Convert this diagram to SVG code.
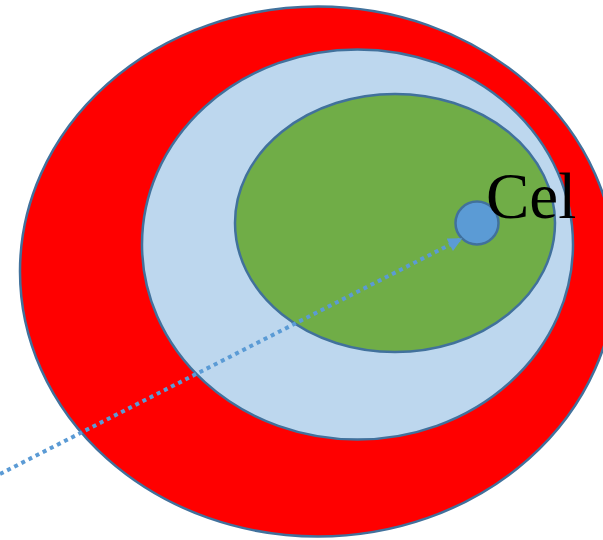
<svg xmlns="http://www.w3.org/2000/svg" width="603" height="540" viewBox="0 0 603 540">
<defs>
<style>
.shape{stroke:#41719c;stroke-width:2.5}
.conn{fill:none;stroke:#5b9bd5;stroke-width:4;stroke-dasharray:4 4}
</style>
<marker id="arr" viewBox="0 0 10 10" refX="9" refY="5" markerWidth="4" markerHeight="3.5" orient="auto" markerUnits="strokeWidth">
<path d="M0,0 L10,5 L0,10 Z" fill="#5b9bd5"/>
</marker>
</defs>
<rect width="603" height="540" fill="#ffffff"/>
<g id="outer"><ellipse class="shape" cx="318" cy="271.5" rx="298" ry="265" fill="#ff0000"/></g>
<g id="middle"><ellipse class="shape" cx="357.5" cy="244.5" rx="215.5" ry="195" fill="#bdd7ee"/></g>
<g id="inner"><ellipse class="shape" cx="395" cy="223" rx="160" ry="129" fill="#70ad47"/></g>
<g id="cell"><circle class="shape" cx="477" cy="223" r="21.5" fill="#5b9bd5"/>
<text x="486" y="218" font-family="Liberation Serif, serif" font-size="65" fill="#000000">Cel</text></g>
<g id="connectors"><line class="conn" x1="0" y1="474" x2="461" y2="239" marker-end="url(#arr)"/></g>
</svg>
